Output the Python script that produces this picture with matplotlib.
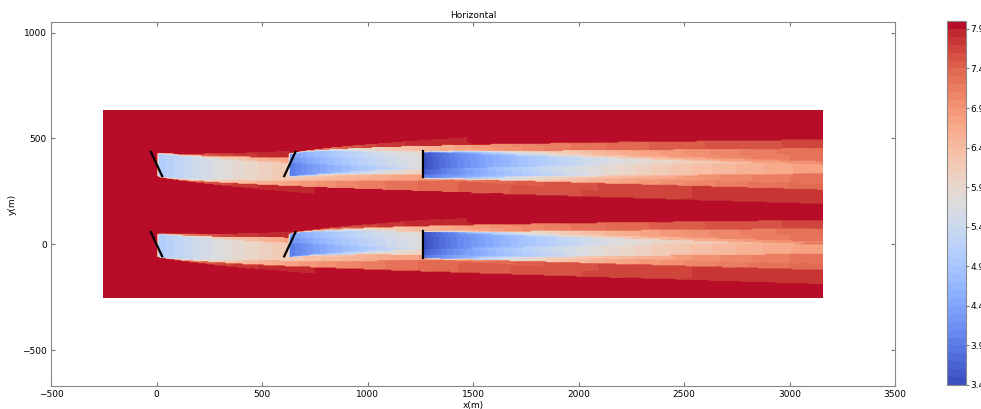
import numpy as np
import matplotlib.pyplot as plt

# turbine layout and settings (m, deg)
rotor_d = 126.4
turb_x = [0.0, 632.0, 1264.0, 0.0, 632.0, 1264.0]
turb_y = [0.0, 0.0, 0.0, 379.2, 379.2, 379.2]
yaw_deg = [-25.0, 25.0, 0.0, -25.0, 25.0, 0.0]
axial_a = [0.19, 0.23, 0.25, 0.19, 0.23, 0.25]
u_inf = 8.0

# wake zone coefficients (near, far, mixing)
ke = 0.065
me = [-0.32, 0.3, 1.0]
mu = [0.44, 0.8, 5.5]
a_u, b_u = 12.0, 0.3
kd, ad, bd = 0.17, -4.5, -0.01

# plane extent
plane_x = [-252.8, 3156.0]
plane_y = [-252.8, 632.0]

cbar_ticks = [3.4, 3.9, 4.4, 4.9, 5.4, 5.9, 6.4, 6.9, 7.4, 7.9]
x_ticks = [-500, 0, 500, 1000, 1500, 2000, 2500, 3000, 3500]
y_ticks = [-500, 0, 500, 1000]

xx, yy = np.meshgrid(np.linspace(plane_x[0], plane_x[1], 340),
                     np.linspace(plane_y[0], plane_y[1], 180))
def_sq = np.zeros_like(xx)
for x0, y0, yaw, a in zip(turb_x, turb_y, yaw_deg, axial_a):
    g = np.radians(yaw)
    ct = 4 * a * (1 - a)
    dx = xx - x0
    down = dx > 0
    dxp = np.where(down, dx, 0.0)
    xi = 0.5 * np.cos(g) ** 2 * np.sin(g) * ct
    s = 2 * kd * dxp / rotor_d + 1
    defl = xi * rotor_d * (15 + xi ** 2) / (30 * kd) \
        - xi * (15 * s ** 4 + xi ** 2) / ((30 * kd / rotor_d) * s ** 5)
    defl = defl + ad + bd * dxp
    dy = np.abs(yy - y0 - defl)
    c = np.zeros_like(xx)
    for q in [2, 1, 0]:
        r = np.maximum(rotor_d * np.cos(g) / 2 + ke * me[q] * dxp, 0)
        m = mu[q] / np.cos(np.radians(a_u + b_u * abs(yaw)))
        cq = (rotor_d / (rotor_d + 2 * ke * m * dxp)) ** 2
        c = np.where(down & (dy <= r), cq, c)
    def_sq += (2 * a * c) ** 2

u = np.clip(u_inf * (1 - np.sqrt(def_sq)), 3.4, 8.0)

fig = plt.figure(figsize=(9.81, 4.09), dpi=100)
ax = fig.add_axes([51 / 981, 23 / 409, 844 / 981, 364 / 409])
cax = fig.add_axes([947 / 981, 24 / 409, 19 / 981, 364 / 409])

levels = np.linspace(3.4, 8.0, 47)
cf = ax.contourf(xx, yy, u, levels=levels, cmap='coolwarm')

for x0, y0, yaw in zip(turb_x, turb_y, yaw_deg):
    g = np.radians(yaw)
    hx = rotor_d / 2 * np.sin(g)
    hy = rotor_d / 2 * np.cos(g)
    ax.plot([x0 + hx, x0 - hx], [y0 + hy, y0 - hy], color='k', lw=1.6)

ax.set_xlim(-500, 3500)
ax.set_ylim(-670, 1050)
ax.set_xticks(x_ticks)
ax.set_yticks(y_ticks)
ax.tick_params(direction='in', top=True, right=True, labelsize=6.5,
               length=3, color='#777777', pad=3)
for sp in ax.spines.values():
    sp.set_color('#888888')
ax.set_title('Horizontal', fontsize=6.5, pad=3)
ax.set_xlabel('x(m)', fontsize=6.5, labelpad=1)
ax.set_ylabel('y(m)', fontsize=6.5, labelpad=4)

cb = fig.colorbar(cf, cax=cax, ticks=cbar_ticks)
cb.ax.set_yticklabels(['%.1f' % t for t in cbar_ticks])
cb.ax.tick_params(labelsize=6.5, length=2, color='#777777', pad=1)
cb.outline.set_edgecolor('#888888')

fig.savefig('out.png', dpi=100)
